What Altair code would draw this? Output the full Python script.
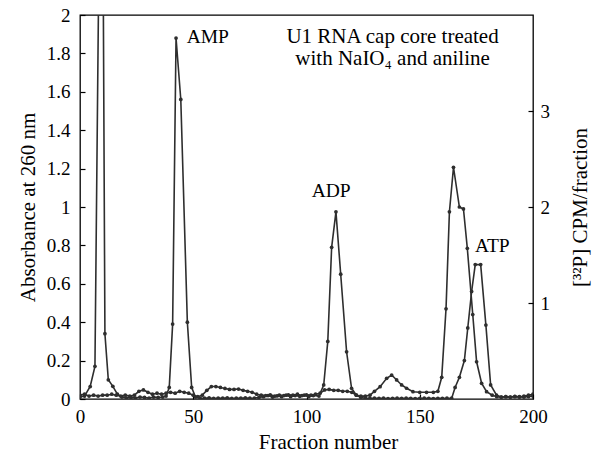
import altair as alt
import pandas as pd

# ---- data ----
fraction_abs = [0, 2, 4.5, 6.6, 9.6, 11.0, 12.5, 14.5, 16.5, 18.5, 20.5, 22.5, 24.5, 26.5, 28.5,
                30.5, 32.5, 34.5, 36.5, 38.0, 39.4, 40.9, 42.4, 44.5, 47.4, 49.3, 51.0, 53, 55, 57,
                59, 61, 63, 65, 67, 69, 71, 73, 75, 77, 79, 81, 83, 85, 87, 89, 91, 93, 95, 97, 99,
                101, 103, 105.5, 107.6, 109.4, 111.1, 113.0, 115.1, 117.7, 119.9, 122, 124, 126,
                128, 130, 132, 134, 136, 138, 140, 142, 144, 146, 148, 150, 152, 154, 156, 158, 160,
                162, 164.1, 165.6, 167.5, 169.7, 171.2, 172.9, 174.5, 176.9, 179.2, 181.3, 183.9,
                186, 188, 190, 192, 194, 196, 198, 200]
absorbance = [0.01, 0.015, 0.065, 0.17, 3.8, 0.34, 0.10, 0.066, 0.025, 0.01, 0.005, 0.008, 0.005,
              0.01, 0.008, 0.005, 0.01, 0.008, 0.01, 0.015, 0.06, 0.39, 1.88, 1.56, 0.40, 0.06,
              0.01, 0.005, 0.004, 0.006, 0.003, 0.005, 0.004, 0.006, 0.003, 0.005, 0.004, 0.006,
              0.004, 0.005, 0.008, 0.012, 0.018, 0.01, 0.016, 0.012, 0.02, 0.012, 0.018, 0.014,
              0.02, 0.012, 0.018, 0.015, 0.073, 0.30, 0.79, 0.975, 0.65, 0.246, 0.056, 0.02, 0.008,
              0.004, 0.003, 0.004, 0.003, 0.004, 0.002, 0.003, 0.004, 0.003, 0.004, 0.003, 0.002,
              0.003, 0.004, 0.003, 0.002, 0.003, 0.003, 0.004, 0.004, 0.06, 0.113, 0.2, 0.37, 0.56,
              0.70, 0.70, 0.385, 0.073, 0.02, 0.01, 0.012, 0.01, 0.014, 0.012, 0.01, 0.013, 0.015]

fraction_cpm = [0, 2, 4, 6, 8, 10, 12, 14, 16, 18, 20, 22, 24, 26, 28, 30, 32, 34, 36, 38, 40, 42,
                44, 46, 48, 50, 52, 54, 56, 58, 60, 62, 64, 66, 68, 70, 72, 74, 76, 78, 80, 82, 84,
                86, 88, 90, 92, 94, 96, 98, 100, 102, 104, 106, 108, 110, 112, 114, 116, 118, 120,
                122, 124, 126, 128, 130, 132.5, 135.4, 137.6, 139.8, 142, 144.2, 147, 150, 153, 156,
                158, 159.7, 161.6, 163.1, 164.9, 167.5, 169.3, 171.0, 173.4, 175.1, 177.3, 179.5,
                182, 184, 186, 188, 190, 192, 194, 196, 198, 200]
cpm = [0.04, 0.05, 0.03, 0.04, 0.03, 0.04, 0.04, 0.05, 0.04, 0.03, 0.04, 0.03, 0.04, 0.08, 0.094,
       0.07, 0.05, 0.06, 0.05, 0.06, 0.07, 0.06, 0.08, 0.07, 0.06, 0.04, 0.024, 0.04, 0.09, 0.13,
       0.13, 0.12, 0.11, 0.10, 0.10, 0.104, 0.09, 0.08, 0.07, 0.05, 0.04, 0.036, 0.044, 0.03, 0.04,
       0.036, 0.044, 0.04, 0.05, 0.036, 0.044, 0.04, 0.05, 0.06, 0.094, 0.10, 0.09, 0.09, 0.08,
       0.08, 0.07, 0.04, 0.03, 0.03, 0.04, 0.08, 0.128, 0.216, 0.25, 0.198, 0.146, 0.112, 0.076,
       0.07, 0.07, 0.07, 0.08, 0.226, 0.94, 1.95, 2.414, 2.0, 1.98, 1.57, 0.88, 0.388, 0.164,
       0.076, 0.04, 0.024, 0.02, 0.024, 0.02, 0.024, 0.02, 0.03, 0.04, 0.05]

peak_labels = ["AMP", "ADP", "ATP"]
peak_label_x = [47.1, 102.3, 174.4]
peak_label_y = [1.854, 1.052, 0.767]

note_lines = ["U1 RNA cap core treated", "with NaIO\u2084 and aniline"]
note_x = [138, 138]
note_y = [1.854, 1.74]

df_abs = pd.DataFrame({"fraction": fraction_abs, "value": absorbance})
df_cpm = pd.DataFrame({"fraction": fraction_cpm, "value": cpm})
df_peaks = pd.DataFrame({"fraction": peak_label_x, "value": peak_label_y, "label": peak_labels})
df_note = pd.DataFrame({"fraction": note_x, "value": note_y, "label": note_lines})

FONT = "Liberation Serif"
FS = 19
TFS = 21
INK = "#2e2e2e"

x_enc = alt.X(
    "fraction:Q",
    scale=alt.Scale(domain=[0, 200], nice=False, zero=False),
    axis=alt.Axis(values=[0, 50, 100, 150, 200], title="Fraction number", offset=-5,
                  tickSize=5, tickColor="black", tickWidth=1.2, domain=False, grid=False,
                  labelFlush=False, labelOverlap=False,
                  labelPadding=8, labelFont=FONT, labelFontSize=FS, labelColor="black",
                  titleFont=FONT, titleFontSize=TFS, titleFontWeight="normal",
                  titleColor="black", titlePadding=5, titleX=248),
)

y_left = alt.Y(
    "value:Q",
    scale=alt.Scale(domain=[0, 2], nice=False),
    axis=alt.Axis(values=[0, 0.2, 0.4, 0.6, 0.8, 1, 1.2, 1.4, 1.6, 1.8, 2], format="~g",
                  title="Absorbance at 260 nm", offset=-5, tickSize=5, tickColor="black",
                  tickWidth=1.2, domain=False, grid=False, labelFlush=False, labelOverlap=False,
                  labelPadding=10, labelFont=FONT,
                  labelFontSize=FS, labelColor="black", titleFont=FONT, titleFontSize=TFS,
                  titleFontWeight="normal", titleColor="black", titlePadding=8),
)

y_right = alt.Y(
    "value:Q",
    scale=alt.Scale(domain=[0, 4], nice=False),
    axis=alt.Axis(orient="right", values=[1, 2, 3], format="~g",
                  title="[\u00b3\u00b2P] CPM/fraction", offset=-5, tickSize=5,
                  tickColor="black", tickWidth=1.2, domain=False, grid=False, labelPadding=7,
                  labelFlush=False, labelOverlap=False,
                  labelFont=FONT, labelFontSize=FS, labelColor="black", titleFont=FONT,
                  titleFontSize=TFS, titleFontWeight="normal", titleColor="black",
                  titleAngle=270, titleBaseline="top", titlePadding=20),
)

abs_line = alt.Chart(df_abs).mark_line(color=INK, strokeWidth=1.6, clip=True).encode(x=x_enc, y=y_left)
abs_pts = alt.Chart(df_abs).mark_circle(color=INK, size=14, opacity=1, clip=True).encode(x=x_enc, y=y_left)
peak_text = alt.Chart(df_peaks).mark_text(font=FONT, fontSize=19.5, color="black",
                                          baseline="alphabetic", align="left").encode(
    x=x_enc, y=y_left, text="label:N")
note_text = alt.Chart(df_note).mark_text(font=FONT, fontSize=TFS, color="black",
                                         baseline="alphabetic", align="center").encode(
    x=x_enc, y=y_left, text="label:N")

left_layer = alt.layer(abs_line, abs_pts, peak_text, note_text)

cpm_line = alt.Chart(df_cpm).mark_line(color=INK, strokeWidth=1.6, clip=True).encode(x=x_enc, y=y_right)
cpm_pts = alt.Chart(df_cpm).mark_circle(color=INK, size=14, opacity=1, clip=True).encode(x=x_enc, y=y_right)
right_layer = alt.layer(cpm_line, cpm_pts)

chart = alt.layer(left_layer, right_layer).resolve_scale(y="independent").properties(
    width=453, height=384,
    autosize=alt.AutoSizeParams(type="none"),
    padding={"left": 80, "top": 15, "right": 59, "bottom": 57},
    background="white",
).configure_view(
    stroke="black", strokeWidth=1.3
).configure_axis(
    labelFont=FONT, titleFont=FONT, labelFontSize=FS, titleFontSize=TFS
).configure_text(font=FONT)

chart.save("out.html", embed_options={"renderer": "svg", "actions": False})
